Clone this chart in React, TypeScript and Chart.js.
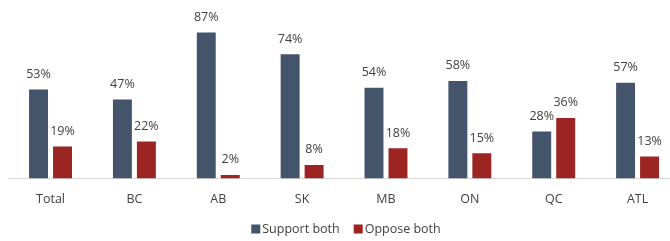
import React, { useEffect, useRef } from "react";
import { Chart, registerables } from "chart.js";

Chart.register(...registerables);

const categories = ["Total", "BC", "AB", "SK", "MB", "ON", "QC", "ATL"];
const supportBoth = [53, 47, 87, 74, 54, 58, 28, 57];
const opposeBoth = [19, 22, 2, 8, 18, 15, 36, 13];
const seriesNames = ["Support both", "Oppose both"];
const seriesColors = ["#44546A", "#9C2524"];

const FONT = "'Open Sans', 'Liberation Sans', sans-serif";

const labelPlugin = {
  id: "labelsAndLegend",
  afterDatasetsDraw(chart: any) {
    const ctx = chart.ctx;
    ctx.save();
    ctx.font = `12.5px ${FONT}`;
    ctx.fillStyle = "#404040";
    ctx.textAlign = "center";
    ctx.textBaseline = "bottom";
    chart.data.datasets.forEach((ds: any, di: number) => {
      const meta = chart.getDatasetMeta(di);
      meta.data.forEach((bar: any, i: number) => {
        ctx.fillText(`${ds.data[i]}%`, bar.x, bar.y - 9);
      });
    });
    // legend
    const items = seriesNames.map((n) => ({ n, w: ctx.measureText(n).width }));
    const box = 9;
    const gapBoxText = 2;
    const gapItems = 14;
    const total = items.reduce((s, it) => s + box + gapBoxText + it.w, 0) + gapItems;
    let x = 346 - total / 2;
    const y = 229;
    ctx.textAlign = "left";
    ctx.textBaseline = "middle";
    items.forEach((it, k) => {
      ctx.fillStyle = seriesColors[k];
      ctx.fillRect(x, y - box / 2, box, box);
      ctx.fillStyle = "#404040";
      ctx.fillText(it.n, x + box + gapBoxText, y + 0.5);
      x += box + gapBoxText + it.w + gapItems;
    });
    ctx.restore();
  },
};

export default function App() {
  const ref = useRef<HTMLCanvasElement>(null);
  useEffect(() => {
    if (!ref.current) return;
    const chart = new Chart(ref.current, {
      type: "bar",
      data: {
        labels: categories,
        datasets: [
          {
            label: seriesNames[0],
            data: supportBoth,
            backgroundColor: seriesColors[0],
            categoryPercentage: 0.572,
            barPercentage: 0.79,
          },
          {
            label: seriesNames[1],
            data: opposeBoth,
            backgroundColor: seriesColors[1],
            categoryPercentage: 0.572,
            barPercentage: 0.79,
          },
        ],
      },
      options: {
        animation: false,
        responsive: false,
        maintainAspectRatio: false,
        layout: { padding: { left: 8.6, right: 0.5, top: 10.6, bottom: 27.6 } },
        plugins: { legend: { display: false }, tooltip: { enabled: false } },
        scales: {
          x: {
            grid: { display: false },
            border: { display: true, color: "#D9D9D9", width: 1 },
            ticks: { color: "#404040", font: { family: FONT, size: 12.5 }, padding: 6 },
          },
          y: { display: false, min: 0, max: 100 },
        },
      },
      plugins: [labelPlugin],
    });
    return () => chart.destroy();
  }, []);
  return (
    <div style={{ position: "fixed", left: 0, top: 0, width: 670, height: 241, overflow: "hidden", background: "#fff" }}>
      <canvas ref={ref} width={680} height={241} style={{ display: "block", width: 680, height: 241 }} />
    </div>
  );
}
